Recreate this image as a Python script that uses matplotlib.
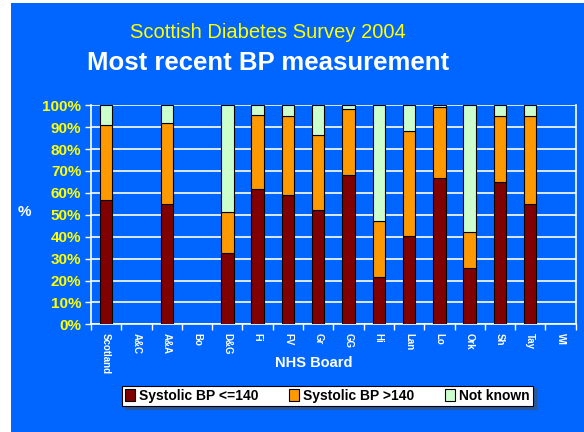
import numpy as np
import matplotlib
matplotlib.use("Agg")
from matplotlib import pyplot as plt
from matplotlib.patches import Rectangle

plt.rcParams['font.family'] = ['Liberation Sans', 'DejaVu Sans']

boards = ["Scotland", "A&C", "A&A", "Bo", "D&G", "Fi", "FV", "Gr", "GG",
          "Hi", "Lan", "Lo", "Ork", "Sh", "Tay", "WI"]
nan = np.nan
bp_low = [56.6, nan, 54.8, nan, 32.4, 61.6, 59.0, 52.1, 68.2,
          21.5, 40.5, 66.8, 25.7, 65.0, 54.9, nan]
bp_high = [34.3, nan, 37.1, nan, 18.7, 33.8, 36.0, 34.2, 30.0,
           25.8, 47.6, 32.3, 16.3, 30.0, 40.1, nan]
not_known = [9.1, nan, 8.1, nan, 48.9, 4.6, 5.0, 13.7, 1.8,
             52.7, 11.9, 0.9, 58.0, 5.0, 5.0, nan]
series_names = ["Systolic BP <=140", "Systolic BP >140", "Not known"]
colors = ["#800000", "#FF9900", "#CCFFCC"]
blue = "#0066FF"

fig = plt.figure(figsize=(5.84, 4.32), dpi=100)
fig.patch.set_facecolor("white")
fig.patches.append(Rectangle((11 / 584, 0), 1 - 11 / 584, 1 - 3 / 432,
                             transform=fig.transFigure, facecolor=blue,
                             edgecolor="none", zorder=-10))

ax = fig.add_axes([91 / 584, 1 - 324.3 / 432, (575.7 - 91) / 584, (324.3 - 105.3) / 432])
ax.set_facecolor(blue)

x = np.arange(len(boards))
low = np.array(bp_low)
high = np.array(bp_high)
nk = np.array(not_known)
w = 0.41
ax.bar(x, low, w, color=colors[0], edgecolor="black", linewidth=0.8, label=series_names[0], zorder=3)
ax.bar(x, high, w, bottom=low, color=colors[1], edgecolor="black", linewidth=0.8, label=series_names[1], zorder=3)
ax.bar(x, nk, w, bottom=low + high, color=colors[2], edgecolor="black", linewidth=0.8, label=series_names[2], zorder=3)

ax.set_xlim(-0.5, len(boards) - 0.5)
ax.set_ylim(0, 100)
ax.set_yticks(np.arange(0, 101, 10))
ax.set_yticklabels([f"{v}%" for v in range(0, 101, 10)], color="#FFFF00",
                   fontsize=11, fontweight="bold")
ax.yaxis.grid(True, color="white", linewidth=1.2, zorder=0)
ax.set_axisbelow(True)

ax.set_xticks(x)
ax.set_xticklabels(boards, rotation=270, color="white", fontsize=7, fontweight="bold", va="top")
ax.set_xticks(np.arange(-0.5, len(boards), 1), minor=True)
ax.tick_params(axis="x", which="major", length=0, pad=6)
ax.tick_params(axis="x", which="minor", length=4, color="white", width=1)
ax.tick_params(axis="y", length=4, color="white", width=1, pad=3)

for side in ["left", "bottom", "right"]:
    ax.spines[side].set_color("white")
    ax.spines[side].set_linewidth(1.2)
ax.spines["top"].set_visible(False)

fig.text(268 / 584, 1 - 33 / 432, "Scottish Diabetes Survey 2004", color="#FFFF00",
         fontsize=14.5, ha="center", va="center")
fig.text(268 / 584, 1 - 63 / 432, "Most recent BP measurement", color="white",
         fontsize=18.5, fontweight="bold", ha="center", va="center")
fig.text(24 / 584, 1 - 212 / 432, "%", color="white", fontsize=11,
         fontweight="bold", ha="center", va="center")
fig.text(314 / 584, 1 - 362.7 / 432, "NHS Board", color="white", fontsize=10.5,
         fontweight="bold", ha="center", va="center")

leg = fig.legend(loc="center", bbox_to_anchor=(327.5 / 584, 1 - 396 / 432), ncol=3,
                 frameon=True, fancybox=False, shadow=True, prop={"weight": "bold", "size": 10},
                 handlelength=0.7, handleheight=0.9, handletextpad=0.3, columnspacing=2.2,
                 borderpad=0.25, edgecolor="black")
leg.get_frame().set_linewidth(0.8)

fig.savefig("out.png", dpi=100, facecolor=fig.get_facecolor())
